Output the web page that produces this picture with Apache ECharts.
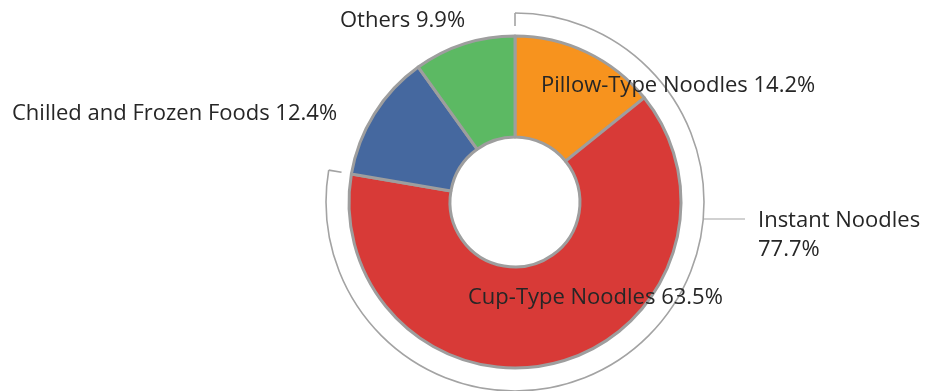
<!DOCTYPE html>
<html>
<head>
<meta charset="utf-8">
<script src="https://cdn.jsdelivr.net/npm/echarts@6/dist/echarts.min.js"></script>
<style>
  html, body { margin: 0; padding: 0; background: #fff; }
  #chart { width: 937px; height: 391px; }
</style>
</head>
<body>
<div id="chart"></div>
<script>
// Sales composition by segment (clockwise from 12 o'clock)
const categories = ['Pillow-Type Noodles', 'Cup-Type Noodles', 'Chilled and Frozen Foods', 'Others'];
const shares = [14.2, 63.5, 12.4, 9.9];
const sliceColors = ['#F7931E', '#D83A37', '#45689F', '#5CB963'];

// Group bracket: the first two segments together
const groupName = 'Instant Noodles';
const groupMembers = [0, 1];

const CX = 515, CY = 202;
const R_IN = 65, R_OUT = 166;
const R_BRACKET = 189;
const FONT_SIZE = 22;

// Label anchor points (left edge, vertical middle) for each slice
const labelPos = [
  [541, 86],
  [468, 298],
  [12, 114],
  [340, 21]
];

const total = shares.reduce((a, b) => a + b, 0);
const groupValue = groupMembers.reduce((a, i) => a + shares[i], 0);
const groupText = groupValue.toFixed(1) + '%';

const startA = -Math.PI / 2;
const endA = startA + 2 * Math.PI * groupValue / total;
const tickLen = 13;
const grey = '#a3a3a3';

const chart = echarts.init(document.getElementById('chart'));
chart.setOption({
  animation: false,
  textStyle: { fontFamily: 'Open Sans' },
  series: [{
    type: 'pie',
    center: [CX, CY],
    radius: [R_IN, R_OUT],
    startAngle: 90,
    clockwise: true,
    avoidLabelOverlap: false,
    itemStyle: { borderColor: '#9e9e9e', borderWidth: 3 },
    emphasis: { disabled: true },
    label: {
      show: true,
      position: 'inside',
      formatter: p => p.name + ' ' + p.value.toFixed(1) + '%',
      color: '#262626',
      fontSize: FONT_SIZE,
      fontFamily: 'Open Sans'
    },
    labelLine: { show: false },
    labelLayout: p => ({
      x: labelPos[p.dataIndex][0],
      y: labelPos[p.dataIndex][1],
      align: 'left',
      verticalAlign: 'middle'
    }),
    data: categories.map((c, i) => ({
      name: c, value: shares[i], itemStyle: { color: sliceColors[i] }
    }))
  }],
  graphic: [
    {
      type: 'arc',
      shape: { cx: CX, cy: CY, r: R_BRACKET, startAngle: startA, endAngle: endA, clockwise: true },
      style: { stroke: grey, lineWidth: 1.6, fill: null },
      silent: true
    },
    {
      type: 'line',
      shape: {
        x1: CX + R_BRACKET * Math.cos(startA), y1: CY + R_BRACKET * Math.sin(startA),
        x2: CX + (R_BRACKET - tickLen) * Math.cos(startA), y2: CY + (R_BRACKET - tickLen) * Math.sin(startA)
      },
      style: { stroke: grey, lineWidth: 1.6 },
      silent: true
    },
    {
      type: 'line',
      shape: {
        x1: CX + R_BRACKET * Math.cos(endA), y1: CY + R_BRACKET * Math.sin(endA),
        x2: CX + (R_BRACKET - tickLen) * Math.cos(endA), y2: CY + (R_BRACKET - tickLen) * Math.sin(endA)
      },
      style: { stroke: grey, lineWidth: 1.6 },
      silent: true
    },
    {
      type: 'line',
      shape: { x1: CX + Math.sqrt(R_BRACKET * R_BRACKET - 17 * 17), y1: CY + 17, x2: 745, y2: CY + 17 },
      style: { stroke: grey, lineWidth: 1.2 },
      silent: true
    },
    {
      type: 'text',
      left: 758,
      top: 206,
      style: {
        text: groupName + '\n' + groupText,
        fill: '#262626',
        font: FONT_SIZE + 'px "Open Sans"',
        lineHeight: 29
      },
      silent: true
    }
  ]
});
</script>
</body>
</html>
